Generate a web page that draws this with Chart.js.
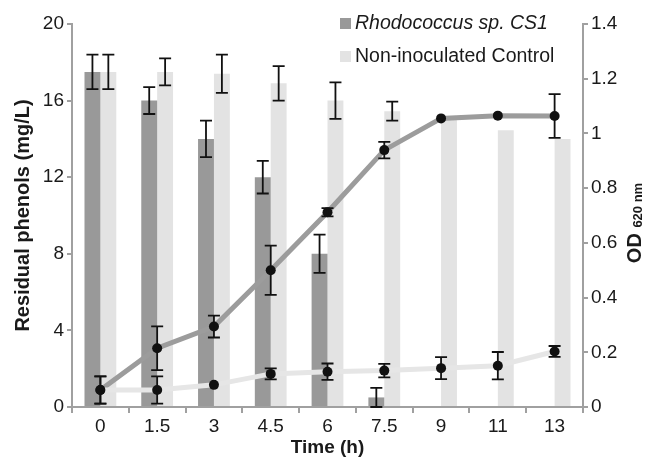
<!DOCTYPE html>
<html>
<head>
<meta charset="utf-8">
<script src="https://cdn.jsdelivr.net/npm/chart.js@4.4.1/dist/chart.umd.min.js"></script>
<style>
  html, body { margin: 0; padding: 0; background: #fff; }
  canvas { display: block; }
</style>
</head>
<body>
<canvas id="chart" width="646" height="459"></canvas>
<script>
// datos
const times = ['0', '1.5', '3', '4.5', '6', '7.5', '9', '11', '13'];

// fenoles residuales (mg/L), eje izquierdo
const phenolCS1 = [17.5, 16, 14, 12, 8, 0.5, 0, 0, 0];
const phenolCS1Err = [0.9, 0.7, 0.95, 0.85, 1.0, 0.5, 0, 0, 0];
const phenolControl = [17.5, 17.5, 17.4, 16.9, 16, 15.45, 15.0, 14.45, 14.0];
const phenolControlErr = [0.9, 0.7, 1.0, 0.9, 0.95, 0.5, 0, 0, 0];

// OD 620 nm, eje derecho
const odCS1 = [0.062, 0.215, 0.294, 0.5, 0.712, 0.939, 1.055, 1.065, 1.064];
const odCS1Err = [0.05, 0.08, 0.04, 0.09, 0.015, 0.03, 0, 0, 0.08];
const odControl = [0.062, 0.062, 0.081, 0.121, 0.129, 0.133, 0.142, 0.151, 0.203];
const odControlErr = [0.05, 0.05, 0, 0.02, 0.03, 0.025, 0.04, 0.05, 0.02];

const leftTicks = [0, 4, 8, 12, 16, 20];
const rightTicks = [0, 0.2, 0.4, 0.6, 0.8, 1, 1.2, 1.4];

const FONT = '"Liberation Sans", Arial, Helvetica, sans-serif';
const AXIS_GRAY = '#a0a0a0';
const TEXT = '#1a1a1a';

// barras de error, dibujadas justo despues de cada dataset
const errorBars = {
    id: 'errorBars',
    afterDatasetDraw(chart, args) {
        const ds = chart.data.datasets[args.index];
        if (!ds.errors) return;
        const scale = chart.scales[ds.yAxisID || 'y'];
        const ctx = chart.ctx;
        ctx.save();
        ctx.strokeStyle = '#111';
        ctx.lineWidth = 1.8;
        args.meta.data.forEach((el, i) => {
            const err = ds.errors[i];
            if (!err) return;
            const v = ds.data[i];
            const top = scale.getPixelForValue(v + err);
            const bot = scale.getPixelForValue(Math.max(0, v - err));
            const x = el.x;
            ctx.beginPath();
            ctx.moveTo(x, top); ctx.lineTo(x, bot);
            ctx.moveTo(x - 6, top); ctx.lineTo(x + 6, top);
            ctx.moveTo(x - 6, bot); ctx.lineTo(x + 6, bot);
            ctx.stroke();
        });
        ctx.restore();
    }
};

// leyenda y titulo derecho con subindice
const extras = {
    id: 'extras',
    afterDraw(chart) {
        const ctx = chart.ctx;
        const ds = chart.data.datasets;
        ctx.save();
        ctx.textBaseline = 'middle';
        ctx.textAlign = 'left';
        const items = [
            { color: ds[0].backgroundColor, text: 'Rhodococcus sp. CS1', style: 'italic ', y: 23 },
            { color: ds[1].backgroundColor, text: 'Non-inoculated Control', style: '', y: 56 }
        ];
        items.forEach(it => {
            ctx.fillStyle = it.color;
            ctx.fillRect(340, it.y - 5, 11, 11);
            ctx.fillStyle = TEXT;
            ctx.font = it.style + '19.5px ' + FONT;
            ctx.fillText(it.text, 355, it.y + 1);
        });

        // OD 620 nm, leido de abajo hacia arriba
        ctx.translate(635, 223);
        ctx.rotate(-Math.PI / 2);
        ctx.font = 'bold 20px ' + FONT;
        const w1 = ctx.measureText('OD ').width;
        ctx.font = 'bold 13px ' + FONT;
        const w2 = ctx.measureText('620 nm').width;
        const x0 = -(w1 + w2) / 2;
        ctx.font = 'bold 20px ' + FONT;
        ctx.fillText('OD', x0, 0);
        ctx.font = 'bold 13px ' + FONT;
        ctx.fillText('620 nm', x0 + w1, 3);
        ctx.restore();
    }
};

const ctx = document.getElementById('chart').getContext('2d');
new Chart(ctx, {
    type: 'bar',
    data: {
        labels: times,
        datasets: [
            {
                label: 'Rhodococcus sp. CS1',
                data: phenolCS1,
                errors: phenolCS1Err,
                backgroundColor: '#999999',
                yAxisID: 'y',
                order: 2,
                barPercentage: 1,
                categoryPercentage: 0.56
            },
            {
                label: 'Non-inoculated Control',
                data: phenolControl,
                errors: phenolControlErr,
                backgroundColor: '#e3e3e3',
                yAxisID: 'y',
                order: 2,
                barPercentage: 1,
                categoryPercentage: 0.56
            },
            {
                type: 'line',
                label: 'OD Rhodococcus',
                data: odCS1,
                errors: odCS1Err,
                borderColor: '#9c9c9c',
                borderWidth: 5,
                pointRadius: 5,
                pointBackgroundColor: '#111',
                pointBorderWidth: 0,
                yAxisID: 'y1',
                order: 1
            },
            {
                type: 'line',
                label: 'OD Control',
                data: odControl,
                errors: odControlErr,
                borderColor: '#e6e6e6',
                borderWidth: 5,
                pointRadius: 5,
                pointBackgroundColor: '#111',
                pointBorderWidth: 0,
                yAxisID: 'y1',
                order: 0
            }
        ]
    },
    options: {
        responsive: false,
        animation: false,
        devicePixelRatio: 1,
        layout: { padding: { top: 24, left: 0, right: 0, bottom: 0 } },
        plugins: {
            legend: { display: false },
            tooltip: { enabled: false }
        },
        scales: {
            x: {
                offset: true,
                grid: { offset: true, drawOnChartArea: false, tickLength: 6, color: AXIS_GRAY, lineWidth: 2 },
                border: { color: AXIS_GRAY, width: 2 },
                ticks: { color: TEXT, font: { family: FONT, size: 19 }, padding: 2 },
                title: { display: true, text: 'Time (h)', color: TEXT, font: { family: FONT, size: 19, weight: 'bold' }, padding: 0 },
                afterFit: s => { s.height = 52; }
            },
            y: {
                position: 'left',
                min: 0,
                max: 20,
                afterBuildTicks: s => { s.ticks = leftTicks.map(v => ({ value: v })); },
                grid: { drawOnChartArea: false, tickLength: 5, color: AXIS_GRAY, lineWidth: 2 },
                border: { color: AXIS_GRAY, width: 2 },
                ticks: { color: TEXT, font: { family: FONT, size: 19 }, padding: 3 },
                title: { display: true, text: 'Residual phenols (mg/L)', color: TEXT, font: { family: FONT, size: 20, weight: 'bold' }, padding: { top: 11, bottom: 0 } },
                afterFit: s => { s.width = 72; }
            },
            y1: {
                position: 'right',
                min: 0,
                max: 1.4,
                afterBuildTicks: s => { s.ticks = rightTicks.map(v => ({ value: v })); },
                grid: { drawOnChartArea: false, tickLength: 5, color: AXIS_GRAY, lineWidth: 2 },
                border: { color: AXIS_GRAY, width: 2 },
                ticks: { color: TEXT, font: { family: FONT, size: 19 }, padding: 3, callback: v => String(+v.toFixed(1)) },
                afterFit: s => { s.width = 63; }
            }
        }
    },
    plugins: [errorBars, extras]
});
</script>
</body>
</html>
